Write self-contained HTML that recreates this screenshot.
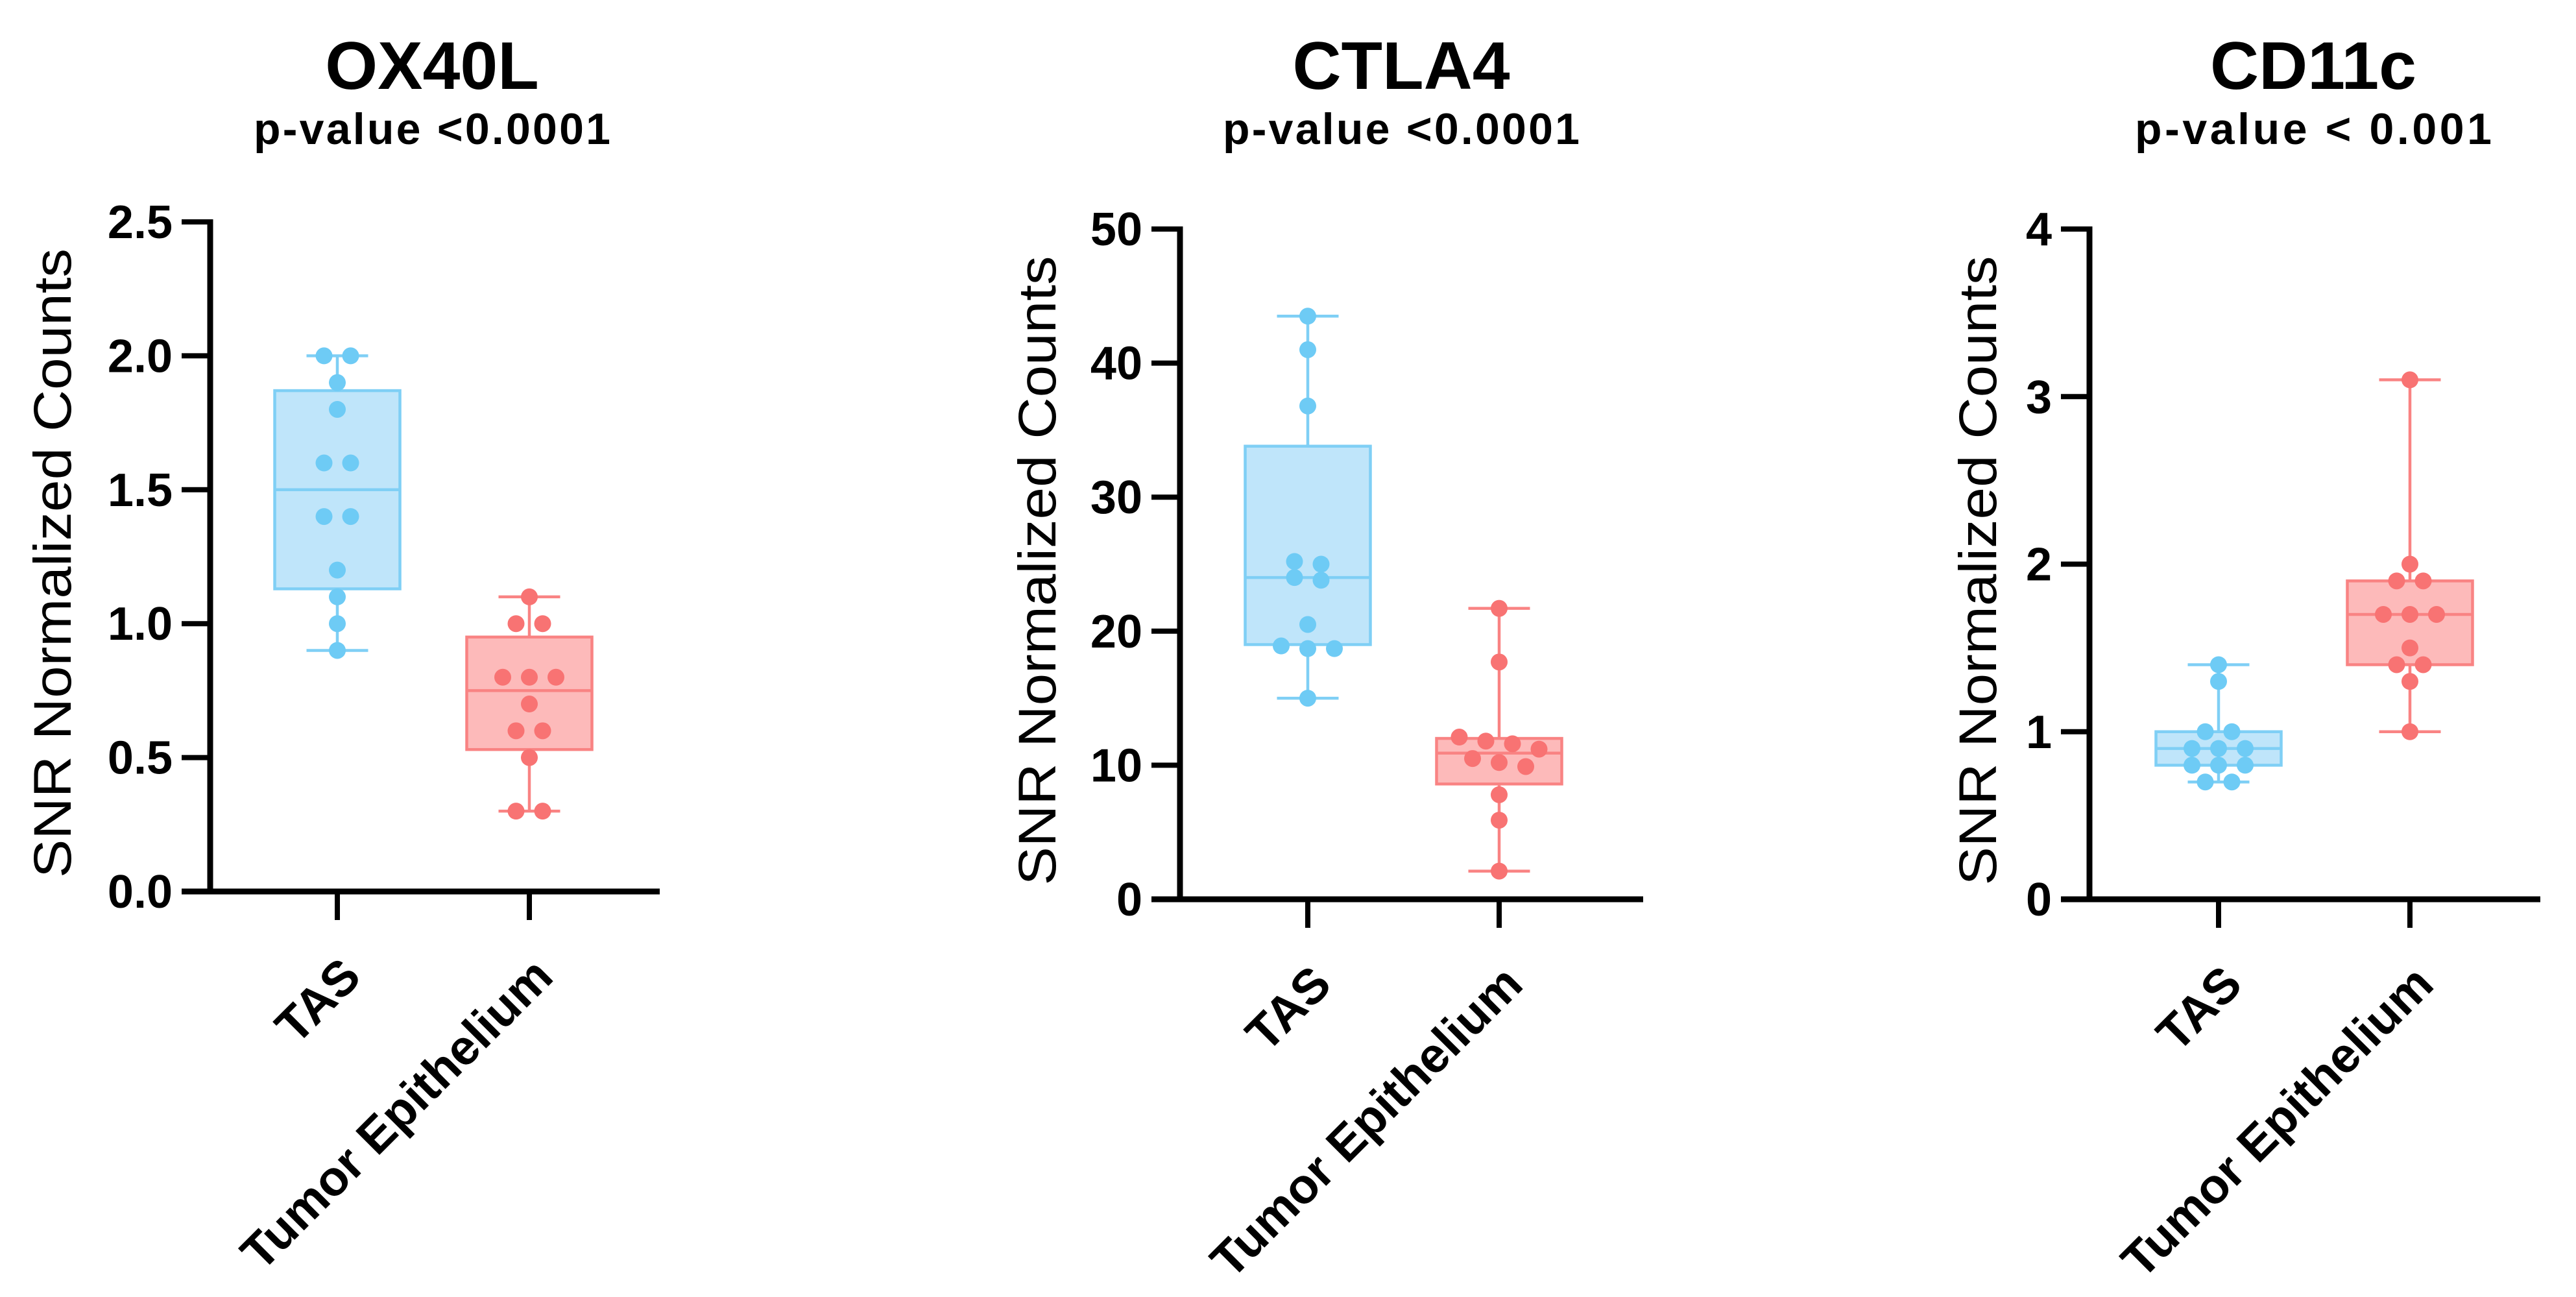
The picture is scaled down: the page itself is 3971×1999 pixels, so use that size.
<!DOCTYPE html>
<html><head><meta charset="utf-8"><style>
html,body{margin:0;padding:0;background:#fff;}
svg{display:block;}
text{font-family:"Liberation Sans",sans-serif;fill:#000;}
</style></head><body>
<svg id="chart" width="3971" height="1999" viewBox="0 0 3971 1999" xmlns="http://www.w3.org/2000/svg"></svg>
<script>
// ---- data ----
const panelTitles = ["OX40L", "CTLA4", "CD11c"];
const panelPvalues = ["p-value <0.0001", "p-value <0.0001", "p-value < 0.001"];
const categories = ["TAS", "Tumor Epithelium"];
const yMaxes = [2.5, 50, 4];
const yTicks1 = ["0.0", "0.5", "1.0", "1.5", "2.0", "2.5"];
const yTicks2 = ["0", "10", "20", "30", "40", "50"];
const yTicks3 = ["0", "1", "2", "3", "4"];
const ox40lTAS = [2.0, 2.0, 1.9, 1.8, 1.6, 1.6, 1.4, 1.4, 1.2, 1.1, 1.0, 0.9];
const ox40lTE = [1.1, 1.0, 1.0, 0.8, 0.8, 0.8, 0.7, 0.6, 0.6, 0.5, 0.3, 0.3];
const ox40lBoxTAS = [0.9, 1.13, 1.5, 1.87, 2.0];
const ox40lBoxTE = [0.3, 0.53, 0.75, 0.95, 1.1];
const ctla4TAS = [43.5, 41.0, 36.8, 25.2, 25.0, 24.0, 23.8, 20.5, 18.9, 18.7, 18.7, 15.0];
const ctla4TE = [21.7, 17.7, 12.1, 11.8, 11.6, 11.2, 10.5, 10.2, 9.9, 7.8, 5.9, 2.1];
const ctla4BoxTAS = [15.0, 19.0, 24.0, 33.8, 43.5];
const ctla4BoxTE = [2.1, 8.6, 10.9, 12.0, 21.7];
const cd11cTAS = [1.4, 1.3, 1.0, 1.0, 0.9, 0.9, 0.9, 0.8, 0.8, 0.8, 0.7, 0.7];
const cd11cTE = [3.1, 2.0, 1.9, 1.9, 1.7, 1.7, 1.7, 1.5, 1.4, 1.4, 1.3, 1.0];
const cd11cBoxTAS = [0.7, 0.8, 0.9, 1.0, 1.4];
const cd11cBoxTE = [1.0, 1.4, 1.7, 1.9, 3.1];

// ---- layout ----
const NS = "http://www.w3.org/2000/svg";
const svg = document.getElementById("chart");
const layouts = [
  {ax:324, top:342, bot:1374, xEnd:1017, c:[520,816], tc:666, yt:81},
  {ax:1819, top:353, bot:1386, xEnd:2533, c:[2016,2311], tc:2160, yt:1599},
  {ax:3221, top:353, bot:1386, xEnd:3916, c:[3420,3715], tc:3566, yt:3049}
];
const tickSets = [yTicks1, yTicks2, yTicks3];
const series = [[ox40lTAS, ox40lTE],[ctla4TAS, ctla4TE],[cd11cTAS, cd11cTE]];
const boxes = [[ox40lBoxTAS, ox40lBoxTE],[ctla4BoxTAS, ctla4BoxTE],[cd11cBoxTAS, cd11cBoxTE]];
const colors = [{stroke:"#7fcff5", fill:"#bfe5fa", dot:"#6ecbf5"},{stroke:"#f98383", fill:"#fdbaba", dot:"#f87373"}];

function mk(tag, attrs, parent){
  const e = document.createElementNS(NS, tag);
  for (const k in attrs) e.setAttribute(k, attrs[k]);
  (parent||svg).appendChild(e);
  return e;
}

layouts.forEach((L, p) => {
  const g = mk("g", {});
  
  
  const yMax = yMaxes[p];
  const yScale = v => L.bot - (v / yMax) * (L.bot - L.top);

  const t = mk("text", {x:L.tc, y:137, "text-anchor":"middle", "font-size":104, "font-weight":"bold"}, g);
  t.textContent = panelTitles[p];
  
  
  const pv = mk("text", {x:L.tc, y:222, "text-anchor":"middle", "font-size":68, "font-weight":"bold", textLength:550, lengthAdjust:"spacing"}, g);
  pv.textContent = panelPvalues[p];
  
  

  const yt = mk("text", {x:0, y:0, "text-anchor":"middle", "font-size":82, transform:"translate(" + (L.yt + 28) + "," + ((L.top + L.bot) / 2 + 10) + ") rotate(-90)", textLength:970, lengthAdjust:"spacingAndGlyphs"}, g);
  yt.textContent = "SNR Normalized Counts";
  
  

  const ticks = tickSets[p];
  const ax = mk("line", {x1:L.ax, y1:L.top - 4, x2:L.ax, y2:L.bot + 4, stroke:"#000", "stroke-width":9}, g);
  
  
  ticks.forEach(lbl => {
    const y = yScale(parseFloat(lbl));
    const tk = mk("line", {x1:L.ax - 44, y1:y, x2:L.ax, y2:y, stroke:"#000", "stroke-width":8}, g);
    
    
    const tl = mk("text", {x:L.ax - 58, y:y + 25, "text-anchor":"end", "font-size":72, "font-weight":"bold"}, g);
    tl.textContent = lbl;
    
    
  });
  const xa = mk("line", {x1:L.ax - 44, y1:L.bot, x2:L.xEnd, y2:L.bot, stroke:"#000", "stroke-width":9}, g);
  
  

  categories.forEach((cat, ci) => {
    const cx = L.c[ci];
    const col = colors[ci];
    const xt = mk("line", {x1:cx, y1:L.bot, x2:cx, y2:L.bot + 44, stroke:"#000", "stroke-width":8}, g);
    
    
    const xl = mk("text", {x:0, y:0, "text-anchor":"end", "font-size":76, "font-weight":"bold", transform:"translate(" + (cx + 40) + "," + (L.bot + 135) + ") rotate(-45)"}, g);
    xl.textContent = cat;
    
    

    const b = boxes[p][ci];
    const bw = 193, cap = 95;
    const wl = mk("line", {x1:cx, y1:yScale(b[0]), x2:cx, y2:yScale(b[4]), stroke:col.stroke, "stroke-width":4.5}, g);
    
    
    [b[0], b[4]].forEach(v => {
      const c = mk("line", {x1:cx - cap / 2, y1:yScale(v), x2:cx + cap / 2, y2:yScale(v), stroke:col.stroke, "stroke-width":4.5}, g);
      
      
    });
    const r = mk("rect", {x:cx - bw / 2, y:yScale(b[3]), width:bw, height:yScale(b[1]) - yScale(b[3]), fill:col.fill, stroke:col.stroke, "stroke-width":4.5}, g);
    
    
    const md = mk("line", {x1:cx - bw / 2, y1:yScale(b[2]), x2:cx + bw / 2, y2:yScale(b[2]), stroke:col.stroke, "stroke-width":4.5}, g);
    
    

    // grouped beeswarm: near-equal values side by side, centered
    const rad = 13, spacing = 41;
    const vals = series[p][ci].slice().sort((a, b2) => b2 - a);
    const groups = [];
    vals.forEach(v => {
      const last = groups[groups.length - 1];
      if (last && Math.abs(yScale(last[0]) - yScale(v)) < 20) last.push(v);
      else groups.push([v]);
    });
    groups.forEach(grp => {
      grp.forEach((v, i) => {
        const x = cx + (i - (grp.length - 1) / 2) * spacing;
        const d = mk("circle", {cx:x, cy:yScale(v), r:rad, fill:col.dot}, g);
        
        
      });
    });
  });
});
</script>
</body></html>
